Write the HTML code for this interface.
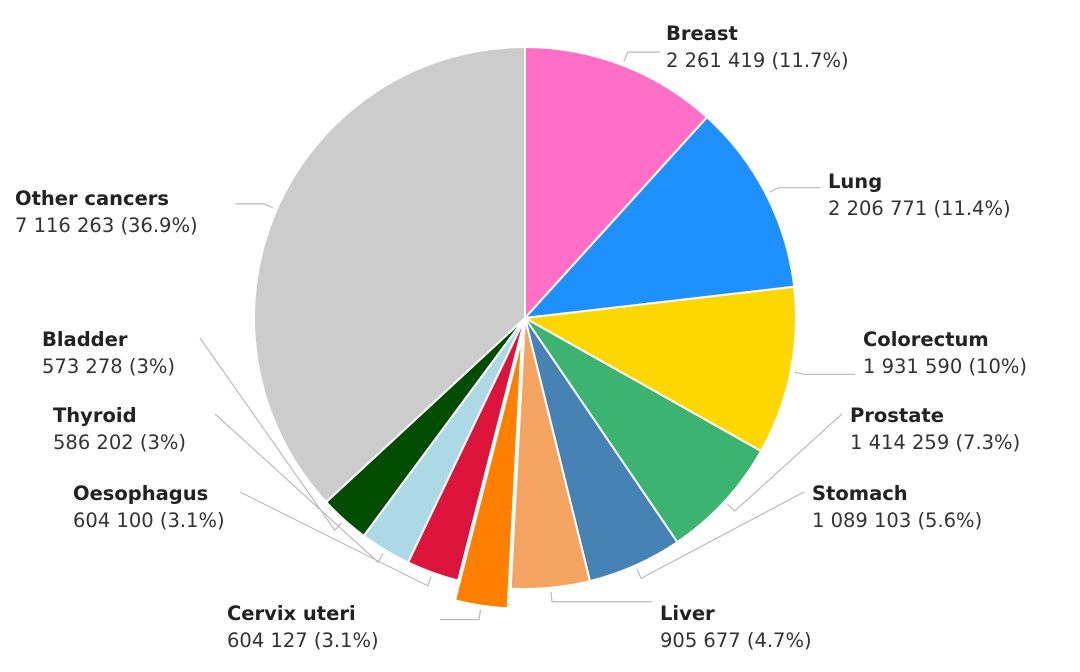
<!DOCTYPE html>
<html><head><meta charset="utf-8"><style>
html,body{margin:0;padding:0;background:#fff;}
svg{display:block;font-family:"DejaVu Sans","Liberation Sans",sans-serif;}
.n{font-weight:bold;font-size:19.5px;fill:#222;}
.v{font-size:19.5px;fill:#333;}
</style></head><body>
<svg id="chart" width="1080" height="672" viewBox="0 0 1080 672"></svg>
<script>
const categories=["Breast","Lung","Colorectum","Prostate","Stomach","Liver","Cervix uteri","Oesophagus","Thyroid","Bladder","Other cancers"];
const values=[2261419,2206771,1931590,1414259,1089103,905677,604127,604100,586202,573278,7116263];
const percents=["11.7%","11.4%","10%","7.3%","5.6%","4.7%","3.1%","3.1%","3%","3%","36.9%"];
const valueLabels=["2 261 419","2 206 771","1 931 590","1 414 259","1 089 103","905 677","604 127","604 100","586 202","573 278","7 116 263"];
const colors=["#ff6ec7","#1e90ff","#ffd700","#3cb371","#4682b4","#f4a460","#ff7f00","#dc143c","#add8e6","#004d00","#cccccc"];
const labelX=[666,828,863,850,812,660,227,73,53,42,15];
const labelY=[40,188,346,422,500,620,620,500,422,346,205];
const lineEndX=[660,820,855,842,804,652,440,240,215,200,235];
const explode=[0,0,0,0,0,0,20,0,0,0,0];
const NS="http://www.w3.org/2000/svg";
const svg=document.getElementById('chart');
const cx=525,cy=318,r=271;
const total=values.reduce((a,b)=>a+b,0);
function pt(a,rad,ox,oy){return [ox+rad*Math.sin(a),oy-rad*Math.cos(a)];}
let start=0;
values.forEach((v,i)=>{
  const ang=v/total*2*Math.PI, end=start+ang, mid=start+ang/2;
  const ex=explode[i]*Math.sin(mid), ey=-explode[i]*Math.cos(mid);
  const ox=cx+ex, oy=cy+ey;
  const p1=pt(start,r,ox,oy), p2=pt(end,r,ox,oy);
  const path=document.createElementNS(NS,'path');
  path.setAttribute('d',`M${ox},${oy}L${p1[0]},${p1[1]}A${r},${r} 0 ${ang>Math.PI?1:0} 1 ${p2[0]},${p2[1]}Z`);
  path.setAttribute('fill',colors[i]);path.setAttribute('stroke','#fff');path.setAttribute('stroke-width','2');
  
  
  svg.appendChild(path);
  const a=pt(mid,r+4,ox,oy), b=pt(mid,r+14,ox,oy);
  const tx=lineEndX[i];
  const ty=labelY[i]-8;
  const line=document.createElementNS(NS,'polyline');
  line.setAttribute('points',`${a[0]},${a[1]} ${b[0]},${b[1]} ${tx},${ty<b[1]-40||ty>b[1]+40?ty:b[1]}`);
  line.setAttribute('fill','none');line.setAttribute('stroke','#bbb');line.setAttribute('stroke-width','1.2');
  
  
  svg.appendChild(line);
  const t1=document.createElementNS(NS,'text');
  t1.setAttribute('x',labelX[i]);t1.setAttribute('y',labelY[i]);t1.setAttribute('class','n');
  t1.textContent=categories[i];
  
  
  svg.appendChild(t1);
  const t2=document.createElementNS(NS,'text');
  t2.setAttribute('x',labelX[i]);t2.setAttribute('y',labelY[i]+27);t2.setAttribute('class','v');
  t2.textContent=valueLabels[i]+" ("+percents[i]+")";
  
  
  svg.appendChild(t2);
  start=end;
});
</script>
</body></html>
